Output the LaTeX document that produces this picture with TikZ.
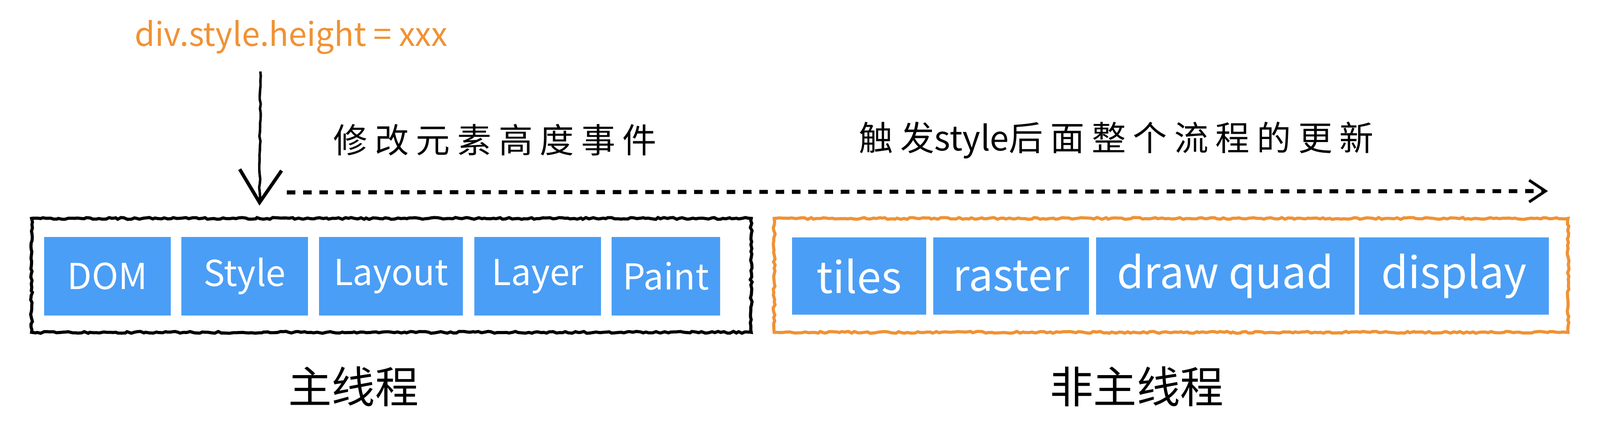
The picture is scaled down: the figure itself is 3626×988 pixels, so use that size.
\documentclass[tikz,border=0pt]{standalone}
\usepackage{fontspec}
\setmainfont{Noto Sans CJK SC}
\newfontfamily\cjkwide[LetterSpace=21]{Noto Sans CJK SC}
\usepackage{tikz}
\usetikzlibrary{arrows.meta,decorations.pathmorphing}
\definecolor{stageblue}{RGB}{74,158,246}
\definecolor{sketchorange}{RGB}{240,146,52}

\begin{document}
\begin{tikzpicture}[x=0.01cm, y=-0.01cm,
  stage/.style={fill=stageblue, text=white, inner sep=0pt, minimum height=1.78cm, font=\fontsize{23}{26}\selectfont},
  bigstage/.style={stage, minimum height=1.75cm, font=\fontsize{28}{32}\selectfont},
  frame/.style={draw, line width=2pt, inner sep=0pt, minimum height=2.58cm, decorate, decoration={random steps, segment length=2pt, amplitude=0.6pt}},
  note/.style={font=\fontsize{22}{26}\cjkwide, inner sep=0pt},
  thread/.style={font=\fontsize{28}{32}\selectfont, inner sep=0pt}]
  \useasboundingbox (0,0) rectangle (3626,988);

  % Trigger
  \node[font=\fontsize{21}{24}\selectfont, text=sketchorange, inner sep=0pt] (trigger) at (660,84) {div.style.height = xxx};
  \coordinate (src) at (590,162);
  \coordinate (hit) at (588,466);
  \draw[line width=1.6pt, -{Straight Barb[length=21pt, width=27pt, line width=2.2pt]}, decorate, decoration={random steps, segment length=3pt, amplitude=0.4pt}] (src) -- (hit);

  % Annotations
  \node[note] (change) at (1122,317) {修改元素高度事件};
  \node[note] (update) at (2530,318) {触发{\normalfont style}后面整个流程的更新};
  \coordinate (flowstart) at (650,436);
  \coordinate (flowend) at (3508,433);
  \draw[line width=2.6pt, dash pattern=on 5.5pt off 5pt, -{Straight Barb[length=10.5pt, width=14pt, line width=1.8pt]}] (flowstart) -- (flowend);

  % Main thread
  \node[frame, minimum width=16.30cm] (mainbox) at (887,624) {};
  \node[stage, minimum width=2.87cm] (dom) at (243.5,626) {DOM};
  \node[stage, minimum width=2.87cm] (style) at (554.5,626) {Style};
  \node[stage, minimum width=3.26cm] (layout) at (886,626) {Layout};
  \node[stage, minimum width=2.87cm] (layer) at (1218.5,626) {Layer};
  \node[stage, minimum width=2.46cm] (paint) at (1509,626) {Paint};
  \node[thread] (mainlabel) at (801,876) {主线程};

  % Other threads
  \node[frame, draw=sketchorange, minimum width=17.98cm] (otherbox) at (2654,624) {};
  \node[bigstage, minimum width=3.04cm] (tiles) at (1947,625.5) {tiles};
  \node[bigstage, minimum width=3.53cm] (raster) at (2291.5,625.5) {raster};
  \node[bigstage, minimum width=5.86cm] (quad) at (2777,625.5) {draw quad};
  \node[bigstage, minimum width=4.30cm] (display) at (3295,625.5) {display};
  \node[thread] (otherlabel) at (2576,876) {非主线程};
\end{tikzpicture}
\end{document}
